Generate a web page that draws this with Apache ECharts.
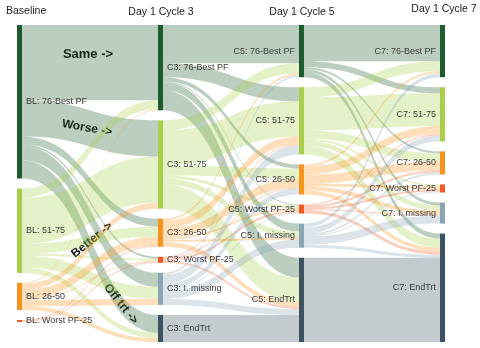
<!DOCTYPE html>
<html>
<head>
<meta charset="utf-8">
<script src="https://cdn.jsdelivr.net/npm/echarts@6/dist/echarts.min.js"></script>
<style>html,body{margin:0;padding:0;background:#fff}#c{width:480px;height:348px}</style>
</head>
<body>
<div id="c"></div>
<script>
const stages = ['BL', 'C3', 'C5', 'C7'];
const stageTitles = ['Baseline', 'Day 1 Cycle 3', 'Day 1 Cycle 5', 'Day 1 Cycle 7'];
const categories = ['76-Best PF', '51-75', '26-50', 'Worst PF-25', 'I. missing', 'EndTrt'];
const blCategories = ['76-Best PF', '51-75', '26-50', 'Worst PF-25'];
// rows: source category, cols: target category (C3 order)
const blToC3 = [
  [75, 36, 8, 2, 14, 18],
  [9, 46, 10, 2, 12, 5],
  [1, 6, 9, 1, 6, 4],
  [0, 0, 1, 1, 0, 0]
];
const c3ToC5 = [
  [38, 14, 4, 1, 8, 20],
  [10, 35, 10, 3, 6, 24],
  [2, 8, 9, 2, 2, 5],
  [0, 1, 1, 2, 0, 2],
  [2, 9, 6, 1, 8, 6],
  [0, 0, 0, 0, 0, 27]
];
const c5ToC7 = [
  [36, 6, 2, 0, 3, 5],
  [10, 33, 8, 2, 5, 9],
  [2, 8, 9, 3, 4, 4],
  [0, 1, 2, 2, 1, 3],
  [4, 6, 2, 1, 8, 3],
  [0, 0, 0, 0, 0, 84]
];
const annotations = ['Same ->', 'Worse ->', 'Better ->', 'Off trt ->'];

const catColors = {
  '76-Best PF': '#1e5c30',
  '51-75': '#a9cf4a',
  '26-50': '#f7941d',
  'Worst PF-25': '#f05a22',
  'I. missing': '#8ba5b5',
  'EndTrt': '#3d5261'
};

const nodes = [];
blCategories.forEach(c => nodes.push({name: 'BL: ' + c, itemStyle: {color: catColors[c]}}));
['C3', 'C5', 'C7'].forEach(s => {
  categories.forEach(c => {
    const n = {name: s + ': ' + c, itemStyle: {color: catColors[c]}};
    if (s === 'C7' || s === 'C5') n.label = {position: 'left'};
    nodes.push(n);
  });
});
const links = [];
function addLinks(mat, srcStage, srcCats, tgtStage) {
  mat.forEach((row, i) => row.forEach((v, j) => {
    if (v > 0) links.push({source: srcStage + ': ' + srcCats[i], target: tgtStage + ': ' + categories[j], value: v});
  }));
}
addLinks(blToC3, 'BL', blCategories, 'C3');
addLinks(c3ToC5, 'C3', categories, 'C5');
addLinks(c5ToC7, 'C5', categories, 'C7');

const chart = echarts.init(document.getElementById('c'), null, {renderer: 'canvas'});
const hdrFont = '10.5px "Liberation Sans", Arial, sans-serif';
chart.setOption({
  backgroundColor: '#fff',
  animation: false,
  series: [{
    type: 'sankey',
    left: 17, right: 35, top: 25, bottom: 6,
    nodeWidth: 5,
    nodeGap: 10,
    layoutIterations: 0,
    draggable: false,
    emphasis: {disabled: true},
    data: nodes,
    links: links,
    itemStyle: {borderWidth: 0},
    lineStyle: {color: 'source', opacity: 0.3, curveness: 0.5},
    label: {
      show: true, position: 'right', distance: 4,
      fontSize: 9, color: '#3a3a3a',
      fontFamily: '"Liberation Sans", Arial, sans-serif'
    }
  }],
  graphic: [
    {type: 'text', left: 6, top: 6, style: {text: stageTitles[0], font: hdrFont, fill: '#222'}},
    {type: 'text', x: 161, y: 12, style: {text: stageTitles[1], font: hdrFont, fill: '#222', align: 'center', verticalAlign: 'middle'}},
    {type: 'text', x: 302, y: 12, style: {text: stageTitles[2], font: hdrFont, fill: '#222', align: 'center', verticalAlign: 'middle'}},
    {type: 'text', x: 444, y: 9, style: {text: stageTitles[3], font: hdrFont, fill: '#222', align: 'center', verticalAlign: 'middle'}},
    {type: 'text', x: 88, y: 54, style: {text: annotations[0], font: 'bold 13px "Liberation Sans", Arial, sans-serif', fill: '#111', align: 'center', verticalAlign: 'middle'}},
    {type: 'text', x: 87, y: 128, rotation: -0.17, style: {text: annotations[1], font: 'bold 12px "Liberation Sans", Arial, sans-serif', fill: '#111', align: 'center', verticalAlign: 'middle'}},
    {type: 'text', x: 92, y: 240, rotation: 0.68, style: {text: annotations[2], font: 'bold 12px "Liberation Sans", Arial, sans-serif', fill: '#111', align: 'center', verticalAlign: 'middle'}},
    {type: 'text', x: 121, y: 304, rotation: -0.9, style: {text: annotations[3], font: 'bold 12px "Liberation Sans", Arial, sans-serif', fill: '#111', align: 'center', verticalAlign: 'middle'}}
  ]
});
</script>
</body>
</html>
